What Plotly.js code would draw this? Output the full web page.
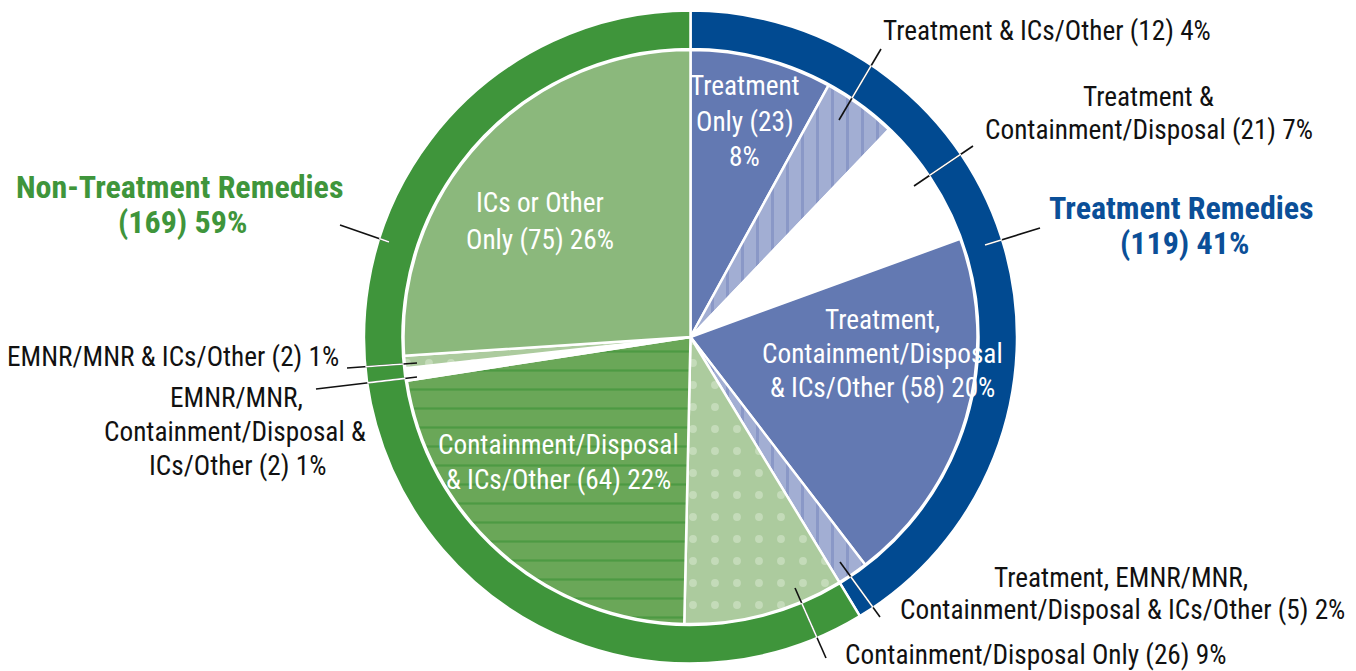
<!DOCTYPE html>
<html><head><meta charset="utf-8">
<script src="https://cdn.plot.ly/plotly-3.0.1.min.js"></script>
<style>html,body{margin:0;padding:0;background:#fff;}#chart{width:1356px;height:671px;}</style>
</head><body><div id="chart"></div>
<script>
// ---- data ----
const groupLabels = ["Treatment Remedies", "Non-Treatment Remedies"];
const groupCounts = [119, 169];
const groupPercents = [41, 59];

const sliceLabels = [
  "Treatment Only",
  "Treatment & ICs/Other",
  "Treatment & Containment/Disposal",
  "Treatment, Containment/Disposal & ICs/Other",
  "Treatment, EMNR/MNR, Containment/Disposal & ICs/Other",
  "Containment/Disposal Only",
  "Containment/Disposal & ICs/Other",
  "EMNR/MNR, Containment/Disposal & ICs/Other",
  "EMNR/MNR & ICs/Other",
  "ICs or Other Only"
];
const sliceCounts = [23, 12, 21, 58, 5, 26, 64, 2, 2, 75];
const slicePercents = [8, 4, 7, 20, 2, 9, 22, 1, 1, 26];

// ---- styles ----
const W = 1356, H = 671;
const CX = 690.5, CY = 337;
const R_OUT = 326.5, R_RING_IN = 288, R_PIE = 287;

// pick the narrowest available family and fit sizes to the reference text widths
const ctx = document.createElement("canvas").getContext("2d");
function textW(font, s) { ctx.font = font; return ctx.measureText(s).width; }
function pickFont(list) {
  const probe = "Containment/Disposal (21) 7%";
  for (const f of list) {
    const a = textW("27px monospace", probe);
    const b = textW(`27px "${f}", monospace`, probe);
    if (Math.abs(a - b) > 0.5) return f;
  }
  return "DejaVu Sans";
}
const FAM = pickFont(["Liberation Sans Narrow", "Roboto Condensed", "DejaVu Sans Condensed"]);
const FONT = `"${FAM}", sans-serif`;
const REG = Math.min(28, 27 * 328 / textW(`27px "${FAM}"`, "Containment/Disposal (21) 7%"));
const BOLD = Math.min(32, 31 * 272 / textW(`bold 31px "${FAM}"`, "Treatment Remedies"));

const ringColors = ["#014a91", "#3f953b"];
const sliceColors = ["#6379b2", "#a2aed3", "#ffffff", "#6379b2", "#a2aed3",
                     "#accb9e", "#6aa758", "#ffffff", "#accb9e", "#8bb87c"];
const patShape = ["", "|", "", "", "|", ".", "-", "", ".", ""];
const patFg = ["#6379b2", "#8a98c7", "#ffffff", "#6379b2", "#8a98c7",
               "#c4dbb9", "#4d9a43", "#ffffff", "#c4dbb9", "#8bb87c"];
const patSize = [10, 15, 10, 10, 15, 22, 19, 10, 22, 10];
const patSolid = [0.3, 0.2, 0.3, 0.3, 0.2, 0.1, 0.12, 0.3, 0.1, 0.3];

function dom(cx, cy, r) {
  return {x: [(cx - r) / W, (cx + r) / W], y: [1 - (cy + r) / H, 1 - (cy - r) / H]};
}
const px = x => x / W;
const py = y => 1 - y / H;

const ring = {
  type: "pie", labels: groupLabels, values: groupCounts,
  sort: false, direction: "clockwise", rotation: 0, hole: R_RING_IN / R_OUT,
  textinfo: "none", hoverinfo: "label+value+percent", showlegend: false,
  domain: dom(CX, CY, R_OUT),
  marker: {colors: ringColors, line: {color: "#ffffff", width: 2.5}}
};
const pie = {
  type: "pie", labels: sliceLabels, values: sliceCounts,
  sort: false, direction: "clockwise", rotation: 0,
  textinfo: "none", hoverinfo: "label+value+percent", showlegend: false,
  domain: dom(CX, CY, R_PIE),
  marker: {
    colors: sliceColors,
    line: {color: "#ffffff", width: 2.5},
    pattern: {shape: patShape, fgcolor: patFg, bgcolor: sliceColors,
              size: patSize, solidity: patSolid, fillmode: "replace"}
  }
};

// ---- text (one annotation per line) ----
const lbl = i => `(${sliceCounts[i]}) ${slicePercents[i]}%`;
const W_ = {family: FONT, size: REG, color: "#ffffff"};
const K_ = {family: FONT, size: REG, color: "#111111"};
const TB = {family: FONT, size: BOLD, color: "#0b4f98", weight: "bold"};
const NB = {family: FONT, size: BOLD, color: "#3f953b", weight: "bold"};
const lines = [
  [745, 86, "Treatment", W_], [745, 122, `Only (${sliceCounts[0]})`, W_], [745, 157, `${slicePercents[0]}%`, W_],
  [540, 203, "ICs or Other", W_], [540, 240, `Only ${lbl(9)}`, W_],
  [882, 320, "Treatment,", W_], [882, 354, "Containment/Disposal", W_], [882, 388, `& ICs/Other ${lbl(3)}`, W_],
  [558, 445, "Containment/Disposal", W_], [558, 480, `& ICs/Other ${lbl(6)}`, W_],
  [1047, 31, `${sliceLabels[1]} ${lbl(1)}`, K_],
  [1148, 97, "Treatment &", K_], [1149, 130, `Containment/Disposal ${lbl(2)}`, K_],
  [173, 357, `${sliceLabels[8]} ${lbl(8)}`, K_],
  [236, 398, "EMNR/MNR,", K_], [235, 432, "Containment/Disposal &", K_], [237, 466, `ICs/Other ${lbl(7)}`, K_],
  [1121, 578, "Treatment, EMNR/MNR,", K_], [1122, 610, `Containment/Disposal & ICs/Other ${lbl(4)}`, K_],
  [1035, 655, `${sliceLabels[5]} ${lbl(5)}`, K_],
  [1181, 208, groupLabels[0], TB], [1184, 243, `(${groupCounts[0]}) ${groupPercents[0]}%`, TB],
  [179, 187, groupLabels[1], NB], [182, 222, `(${groupCounts[1]}) ${groupPercents[1]}%`, NB]
];
const annotations = lines.map(a => ({
  x: px(a[0]), y: py(a[1]), xref: "paper", yref: "paper",
  text: a[2], font: a[3], showarrow: false,
  xanchor: "center", yanchor: "middle", align: "center"
}));

// ---- leader lines ----
const leaders = [
  [839, 120, 881, 49], [914, 186, 973, 146], [985, 245, 1040, 228],
  [340, 225, 389, 242], [347, 368, 417, 363], [316, 389, 417, 377],
  [840, 562, 880, 617], [795, 588, 826, 658]
];
const shapes = [];
leaders.forEach(l => {
  shapes.push({type: "line", xref: "paper", yref: "paper", layer: "above",
    x0: px(l[0]), y0: py(l[1]), x1: px(l[2]), y1: py(l[3]),
    line: {color: "#111111", width: 1.6}});
  // white portion where the line crosses the outer ring
  let t0 = null, t1 = null;
  for (let k = 0; k <= 400; k++) {
    const t = k / 400;
    const x = l[0] + t * (l[2] - l[0]), y = l[1] + t * (l[3] - l[1]);
    const d = Math.hypot(x - CX, y - CY);
    if (d >= R_RING_IN && d <= R_OUT) { if (t0 === null) t0 = t; t1 = t; }
  }
  if (t0 !== null) {
    shapes.push({type: "line", xref: "paper", yref: "paper", layer: "above",
      x0: px(l[0] + t0 * (l[2] - l[0])), y0: py(l[1] + t0 * (l[3] - l[1])),
      x1: px(l[0] + t1 * (l[2] - l[0])), y1: py(l[1] + t1 * (l[3] - l[1])),
      line: {color: "#ffffff", width: 1.6}});
  }
});

Plotly.newPlot("chart", [ring, pie], {
  width: W, height: H, margin: {l: 0, r: 0, t: 0, b: 0},
  paper_bgcolor: "#ffffff", plot_bgcolor: "#ffffff", showlegend: false,
  annotations: annotations, shapes: shapes
}, {displayModeBar: false, staticPlot: true});
</script>
</body></html>
